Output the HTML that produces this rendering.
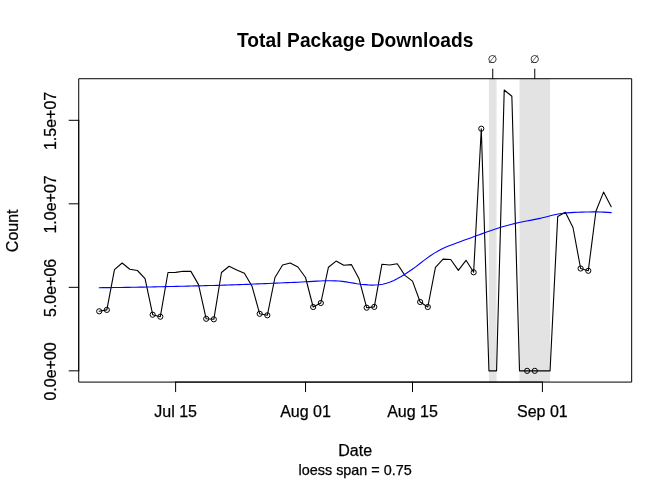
<!DOCTYPE html>
<html><head><meta charset="utf-8"><title>Total Package Downloads</title>
<style>
html,body{margin:0;padding:0;background:#fff;}
body{width:672px;height:480px;overflow:hidden;}
svg{display:block;}
text{font-family:"Liberation Sans",Arial,Helvetica,sans-serif;fill:#000;stroke:#000;stroke-width:0.25px;}
</style></head><body>
<svg width="672" height="480" viewBox="0 0 672 480">
<rect width="672" height="480" fill="#fff"/>
<g fill="#e3e3e3" stroke="none"><rect x="488.93" y="78.72" width="7.64" height="303.36"/><rect x="519.5" y="78.72" width="30.57" height="303.36"/></g>
<polyline points="99.2,311.3 106.84,309.9 114.48,269.7 122.13,263 129.77,269.2 137.41,270.5 145.05,278.6 152.69,314.7 160.33,316.7 167.98,272.5 175.62,272.4 183.26,271.3 190.9,271.4 198.54,284.6 206.19,318.8 213.83,319.3 221.47,272.5 229.11,266.3 236.75,269.9 244.39,273.3 252.04,286.3 259.68,313.8 267.32,315.3 274.96,277.5 282.6,265 290.25,263 297.89,267 305.53,277.5 313.17,307 320.81,303 328.45,267.2 336.1,261.1 343.74,265.2 351.38,264.6 359.02,278.8 366.66,307.7 374.3,306.9 381.95,264.2 389.59,265 397.23,263.8 404.87,275.4 412.51,281.1 420.16,302 427.8,307 435.44,267.4 443.08,259.1 450.72,259.5 458.36,270.4 466.01,260.3 473.65,272.3 481.29,128.7 488.93,370.84 496.57,370.84 504.22,90 511.86,96.2 519.5,370.84 527.14,370.84 534.78,370.84 542.42,370.84 550.07,370.84 557.71,216.5 565.35,212.3 572.99,227.5 580.63,268.5 588.28,270.8 595.92,211.3 603.56,192.1 611.2,206.7" fill="none" stroke="#000" stroke-width="1.1" stroke-linejoin="round" stroke-linecap="round"/>
<g fill="none" stroke="#000" stroke-width="1">
<circle cx="99.2" cy="311.3" r="2.6"/>
<circle cx="106.84" cy="309.9" r="2.6"/>
<circle cx="152.69" cy="314.7" r="2.6"/>
<circle cx="160.33" cy="316.7" r="2.6"/>
<circle cx="206.19" cy="318.8" r="2.6"/>
<circle cx="213.83" cy="319.3" r="2.6"/>
<circle cx="259.68" cy="313.8" r="2.6"/>
<circle cx="267.32" cy="315.3" r="2.6"/>
<circle cx="313.17" cy="307" r="2.6"/>
<circle cx="320.81" cy="303" r="2.6"/>
<circle cx="366.66" cy="307.7" r="2.6"/>
<circle cx="374.3" cy="306.9" r="2.6"/>
<circle cx="420.16" cy="302" r="2.6"/>
<circle cx="427.8" cy="307" r="2.6"/>
<circle cx="473.65" cy="272.3" r="2.6"/>
<circle cx="481.29" cy="128.7" r="2.6"/>
<circle cx="527.14" cy="370.84" r="2.6"/>
<circle cx="534.78" cy="370.84" r="2.6"/>
<circle cx="580.63" cy="268.5" r="2.6"/>
<circle cx="588.28" cy="270.8" r="2.6"/>
</g>
<polyline points="99.2,287.7 102.88,287.66 106.57,287.63 110.25,287.58 113.93,287.54 117.62,287.49 121.3,287.44 124.98,287.39 128.67,287.33 132.35,287.27 136.03,287.21 139.72,287.14 143.4,287.08 147.08,287.01 150.77,286.94 154.45,286.86 158.14,286.78 161.82,286.71 165.5,286.63 169.19,286.54 172.87,286.46 176.55,286.37 180.24,286.29 183.92,286.2 187.6,286.11 191.29,286.02 194.97,285.92 198.65,285.83 202.34,285.73 206.02,285.64 209.7,285.54 213.39,285.44 217.07,285.34 220.75,285.24 224.44,285.13 228.12,285.01 231.8,284.89 235.49,284.76 239.17,284.63 242.85,284.5 246.54,284.36 250.22,284.21 253.91,284.07 257.59,283.92 261.27,283.77 264.96,283.61 268.64,283.46 272.32,283.3 276.01,283.14 279.69,282.98 283.37,282.82 287.06,282.66 290.74,282.5 294.42,282.34 298.11,282.18 301.79,282.02 305.47,281.82 309.16,281.6 312.84,281.37 316.52,281.15 320.21,280.96 323.89,280.81 327.57,280.72 331.26,280.71 334.94,280.83 338.62,281.05 342.31,281.35 345.99,281.89 349.68,282.52 353.36,283.11 357.04,283.73 360.73,284.26 364.41,284.61 368.09,284.91 371.78,285.09 375.46,285.03 379.14,284.78 382.83,284.25 386.51,283.26 390.19,282.05 393.88,280.45 397.56,278.58 401.24,276.52 404.93,274.21 408.61,271.8 412.29,269.26 415.98,266.6 419.66,263.74 423.34,260.84 427.03,258.12 430.71,255.5 434.39,253.11 438.08,250.92 441.76,248.96 445.45,247.3 449.13,245.84 452.81,244.41 456.5,243.01 460.18,241.65 463.86,240.3 467.55,238.98 471.23,237.66 474.91,236.34 478.6,235 482.28,233.64 485.96,232.28 489.65,230.94 493.33,229.65 497.01,228.41 500.7,227.27 504.38,226.21 508.06,225.21 511.75,224.27 515.43,223.39 519.11,222.56 522.8,221.8 526.48,221.07 530.16,220.36 533.85,219.64 537.53,218.9 541.21,218.09 544.9,217.19 548.58,216.24 552.27,215.31 555.95,214.46 559.63,213.75 563.32,213.25 567,212.91 570.68,212.62 574.37,212.39 578.05,212.21 581.73,212.1 585.42,212.02 589.1,211.96 592.78,211.92 596.47,211.9 600.15,211.95 603.83,212.1 607.52,212.33 611.2,212.6" fill="none" stroke="#0000ff" stroke-width="1.1" stroke-linejoin="round" stroke-linecap="round"/>
<rect x="78.72" y="78.72" width="552.96" height="303.36" fill="none" stroke="#000" stroke-width="1" stroke-linejoin="round"/>
<g stroke="#000" stroke-width="1" stroke-linecap="round"><line x1="175.62" y1="382.08" x2="175.62" y2="391.68"/><line x1="305.53" y1="382.08" x2="305.53" y2="391.68"/><line x1="412.51" y1="382.08" x2="412.51" y2="391.68"/><line x1="542.42" y1="382.08" x2="542.42" y2="391.68"/><line x1="78.72" y1="370.84" x2="69.12" y2="370.84"/><line x1="78.72" y1="287.33" x2="69.12" y2="287.33"/><line x1="78.72" y1="203.82" x2="69.12" y2="203.82"/><line x1="78.72" y1="120.3" x2="69.12" y2="120.3"/><line x1="492.75" y1="78.72" x2="492.75" y2="69.12"/><line x1="534.78" y1="78.72" x2="534.78" y2="69.12"/>
<line x1="175.62" y1="382.08" x2="542.42" y2="382.08"/>
<line x1="78.72" y1="370.84" x2="78.72" y2="120.3"/></g>
<g font-size="16"><text x="175.62" y="416.6" text-anchor="middle">Jul 15</text><text x="305.53" y="416.6" text-anchor="middle">Aug 01</text><text x="412.51" y="416.6" text-anchor="middle">Aug 15</text><text x="542.42" y="416.6" text-anchor="middle">Sep 01</text><text transform="translate(56.2,371.44) rotate(-90)" text-anchor="middle">0.0e+00</text><text transform="translate(56.2,287.93) rotate(-90)" text-anchor="middle">5.0e+06</text><text transform="translate(56.2,204.42) rotate(-90)" text-anchor="middle">1.0e+07</text><text transform="translate(56.2,120.9) rotate(-90)" text-anchor="middle">1.5e+07</text></g>
<g font-size="11" fill="#000"><text x="492.4" y="62.75" text-anchor="middle" style="font-family:&quot;DejaVu Sans&quot;,sans-serif;stroke-width:0.05px">&#8709;</text><text x="534.43" y="62.75" text-anchor="middle" style="font-family:&quot;DejaVu Sans&quot;,sans-serif;stroke-width:0.05px">&#8709;</text></g>
<text transform="translate(355.2,46.6) scale(1,1.055)" text-anchor="middle" font-size="19.2" font-weight="bold" letter-spacing="0.05" style="stroke:none">Total Package Downloads</text>
<text x="355.2" y="455.7" text-anchor="middle" font-size="16">Date</text>
<text x="355.2" y="474.7" text-anchor="middle" font-size="14.4">loess span = 0.75</text>
<text transform="translate(17.6,230.8) rotate(-90)" text-anchor="middle" font-size="16">Count</text>
</svg>
</body></html>
